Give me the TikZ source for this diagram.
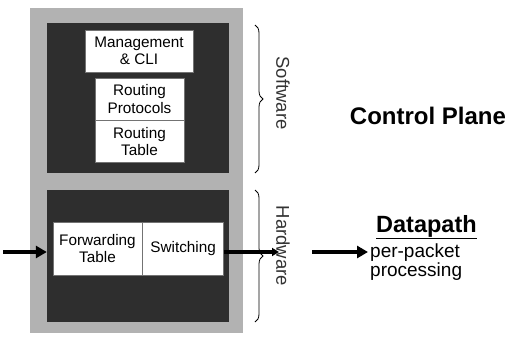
\documentclass[tikz,border=0pt]{standalone}
\usepackage{fontspec}
\setmainfont{Liberation Sans}
\usetikzlibrary{
  decorations.pathreplacing,
  arrows.meta,
  positioning
}

\begin{document}
\begin{tikzpicture}[x=1pt,y=-1pt,
    back/.style={fill=black!30,draw=none,inner sep=0pt},
    panel/.style={fill=black!82,draw=none,inner sep=0pt,minimum width=182pt},
    blk/.style={draw=black!55,line width=0.6pt,fill=white,align=center,inner sep=0pt,
                font=\fontsize{15.3}{17.5}\selectfont},
    flow/.style={line width=4.4pt,-{Triangle[length=11pt,width=12pt]}},
    brc/.style={decorate,decoration={brace,amplitude=8pt},line width=0.8pt},
    side/.style={rotate=-90,font=\fontsize{18.5}{20}\selectfont,text=black!80}]
    \useasboundingbox (0,0) rectangle (519,337);

    % panels
    \node[back,minimum width=213pt,minimum height=325pt] (bg) at (136.5,170.5) {};
    \node[panel,minimum height=150pt] (ctl) at (138,98) {};
    \node[panel,minimum height=132pt] (dp) at (138,256) {};

    % software blocks
    \node[blk,minimum width=108pt,minimum height=42pt] (mgmt) at (139,51) {Management\\\& CLI};
    \node[blk,minimum width=89pt,minimum height=42pt] (rprot) at (139.5,99) {Routing\\Protocols};
    \node[blk,minimum width=89pt,minimum height=42pt,below=0pt of rprot] (rtab) {Routing\\Table};

    % hardware blocks
    \node[blk,minimum width=89pt,minimum height=53pt] (fwd) at (97.5,248.5) {Forwarding\\Table};
    \node[blk,minimum width=81pt,minimum height=53pt,right=0pt of fwd] (sw) {Switching};

    % flow through the box
    \coordinate (in) at (3,252);
    \coordinate (out) at (279,252);
    \draw[flow] (in) -- (in -| dp.west);
    \draw[flow,-{Triangle[length=7pt,width=8pt]}] (out -| sw.east) -- (out);

    % braces
    \draw[brc] (255,25) -- (255,173);
    \draw[brc] (255,190) -- (255,322);
    \node[side] (swlbl) at (283,93) {Software};
    \node[side] (hwlbl) at (283,246) {Hardware};

    % labels on the right
    \node[font=\fontsize{24}{26}\selectfont\bfseries] (cp) at (428,116) {Control Plane};
    \node[font=\fontsize{23.5}{26}\selectfont\bfseries,anchor=west,inner sep=0pt] (dpath) at (376,227) {\underline{Datapath}};
    \node[font=\fontsize{19}{19}\selectfont,align=left,anchor=north west,inner sep=0pt] (pp) at (370,244) {per-packet\\processing};
    \coordinate (a1) at (312,252);
    \draw[flow,line width=3.6pt] (a1) -- ([xshift=-2pt]a1 -| pp.west);
\end{tikzpicture}
\end{document}
